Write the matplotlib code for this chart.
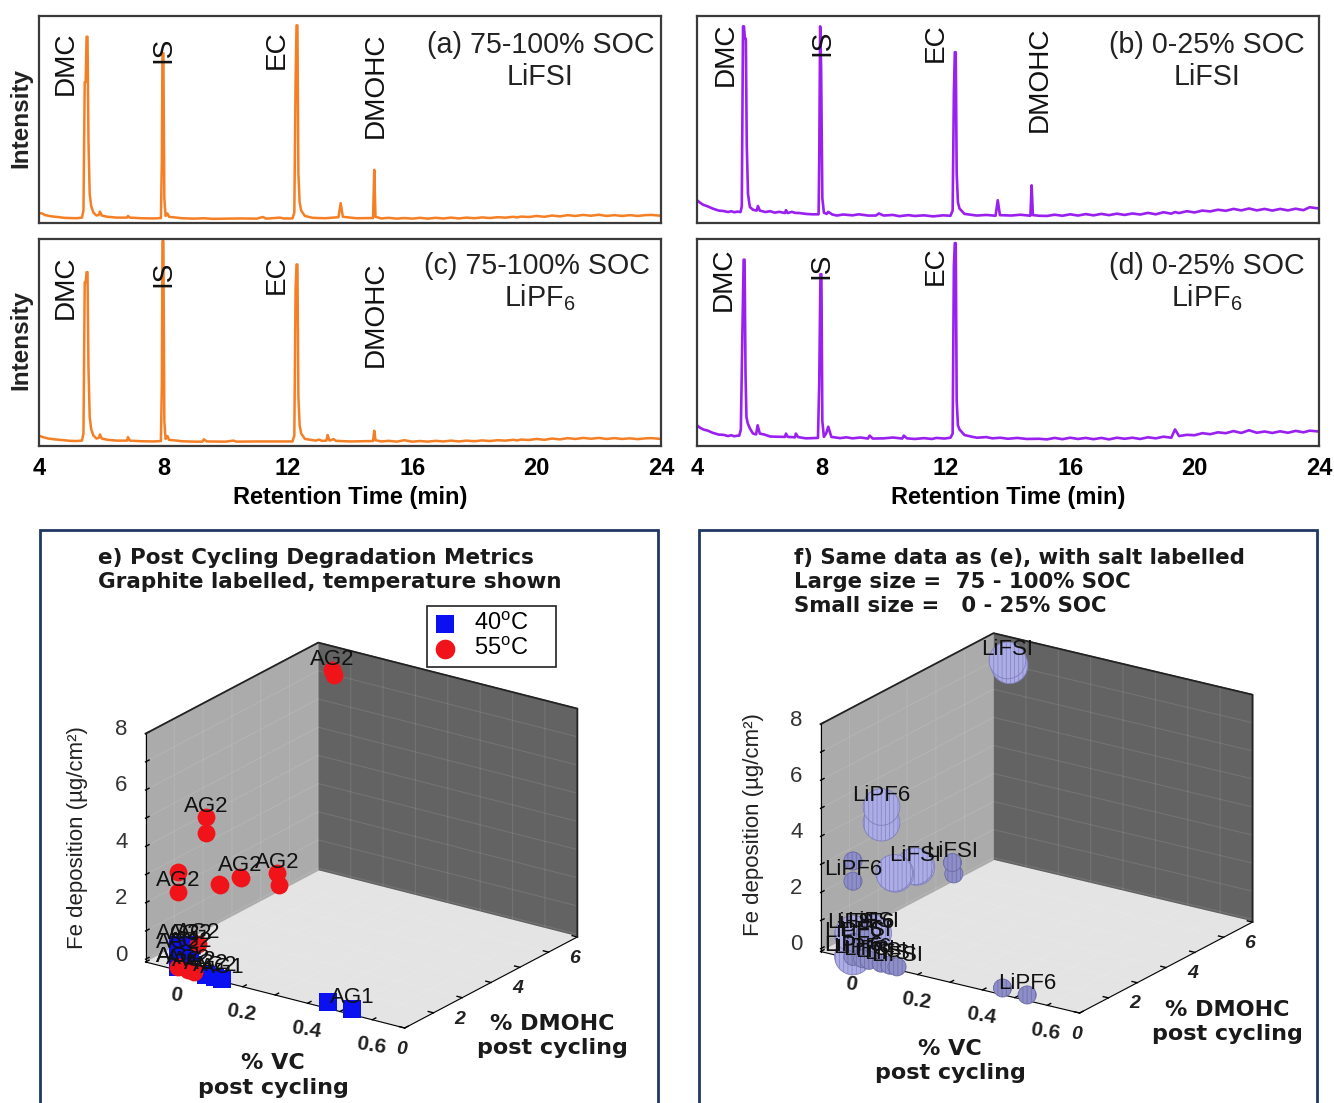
import matplotlib
matplotlib.use("Agg")
import matplotlib.pyplot as plt
from matplotlib.patches import Rectangle
from mpl_toolkits.mplot3d import proj3d

plt.rcParams['font.family'] = ['Liberation Sans', 'DejaVu Sans']
plt.rcParams['mathtext.fontset'] = 'custom'
plt.rcParams['mathtext.rm'] = 'Liberation Sans'
plt.rcParams['mathtext.default'] = 'regular'
plt.rcParams['hatch.linewidth'] = 0.5

# ---------- chromatograms (retention time, % of panel height) ----------
time_a = [4,4.1,4.2,4.4,4.6,4.8,5,5.2,5.38,5.43,5.47,5.5,5.53,5.56,5.59,5.63,5.68,5.75,5.85,5.93,5.96,6.02,6.2,6.5,6.83,6.86,6.92,7.3,7.7,7.92,7.95,7.97,8.0,8.03,8.07,8.13,8.18,8.6,9,9.3,9.6,10,10.5,11,11.2,11.3,11.75,11.85,12.15,12.21,12.25,12.28,12.31,12.34,12.38,12.43,12.55,12.8,13.2,13.63,13.7,13.77,14.2,14.74,14.78,14.82,15]
int_a = [4.8,4.6,3.8,3.2,2.9,2.5,2.4,2.3,2.6,6,68,68,90,90,40,14,8,5,3.6,4,5.5,3.6,3,2.6,2.6,3.4,2.6,2.3,2.2,2.4,30,82,82,12,3.4,4.6,3,2.3,2.1,2.3,2,2.1,2.2,2.1,2.9,2.1,2.6,2.2,2.2,5,69,95.5,95.5,24,10,6,3.4,2.5,2.3,2.8,9.6,3,2.3,2.4,25.7,3,2.2]
time_c = [4,4.1,4.3,4.5,4.8,5,5.2,5.38,5.43,5.47,5.5,5.53,5.56,5.59,5.63,5.68,5.75,5.85,5.93,5.96,6.02,6.2,6.5,6.83,6.86,6.92,7.3,7.7,7.92,7.95,7.97,8.0,8.03,8.07,8.13,8.18,8.6,9,9.25,9.3,9.4,10,10.25,10.35,11,11.6,12.15,12.21,12.25,12.28,12.31,12.34,12.38,12.43,12.55,12.9,13.0,13.1,13.24,13.28,13.34,13.47,13.55,14,14.74,14.78,14.82,15]
int_c = [5,4.4,3.6,3.2,2.8,2.5,2.4,2.6,6,79,79,84,84,38,14,8,5,3.6,4,5.6,3.6,3,2.6,2.6,4.3,2.6,2.3,2.2,2.4,30,99,99,12,3.4,4.8,3,2.3,2.1,2.1,3.2,2.2,2.1,2.6,2.1,2.2,2.2,2.2,5,75.7,87.7,87.7,24,10,6,3.4,2.6,3.1,2.5,2.6,5.3,2.6,3.3,2.5,2.2,2.4,7.4,2.8,2.2]
time_b = [4,4.08,4.2,4.35,4.5,4.7,4.85,5,5.1,5.2,5.3,5.4,5.44,5.48,5.51,5.54,5.57,5.6,5.64,5.7,5.8,5.92,5.96,6.02,6.2,6.35,6.5,6.65,6.83,6.86,6.92,7.05,7.15,7.3,7.5,7.7,7.91,7.93,7.96,7.99,8.03,8.08,8.17,8.22,8.35,8.5,8.7,9,9.2,9.5,9.75,9.85,10,10.3,10.5,10.8,11,11.3,11.6,11.9,12.15,12.22,12.26,12.29,12.32,12.35,12.39,12.44,12.6,12.8,13,13.3,13.6,13.67,13.74,14.1,14.4,14.72,14.76,14.8,15]
int_b = [11,10,8.8,8,7,6,5.8,5.3,5.7,5.2,5.5,5.3,8,95,95,89,89,38,14,7.7,6.4,6,8.2,6,5.3,5.7,5,5.4,4.8,6.2,4.8,5.4,4.9,4.8,4.4,4.2,4.2,30,95,76,12,5,4.4,5.4,4.1,3.6,4.1,3.7,4.2,3.6,3.6,4.6,3.6,3.9,3.3,3.8,3.4,3.7,3.2,3.7,3.5,6,63,82.5,82.5,24,10,7,4.4,4,3.6,3.9,3.5,11,3.8,3.6,4,3.5,18.2,3.8,3.5]
time_d = [4,4.08,4.2,4.35,4.5,4.7,4.85,5,5.1,5.2,5.3,5.36,5.41,5.46,5.5,5.53,5.56,5.59,5.63,5.7,5.8,5.9,5.95,6.02,6.15,6.35,6.5,6.83,6.86,6.92,7.15,7.18,7.25,7.5,7.7,7.89,7.93,7.97,8.0,8.03,8.08,8.15,8.22,8.32,8.6,8.8,9,9.25,9.5,9.55,9.65,10,10.3,10.6,10.65,10.75,11,11.3,11.55,11.7,11.95,12.15,12.22,12.26,12.29,12.32,12.35,12.39,12.44,12.6,12.8,13,13.3,13.5,13.75,14,14.3,14.6,15]
int_d = [10,9,8,7.4,6.4,5.5,5.4,4.8,5.2,4.7,5,5,8,55,90,90,35,14,11,8.5,6,5.6,10,6,5.6,4.6,4.5,4.4,6,4.4,4.2,6,4.3,3.7,3.8,3.9,30,83,83,12,4.4,6,9.3,4.4,3.8,4.2,3.7,4.1,3.6,5,3.6,3.7,4.1,3.6,5,3.7,3.4,3.8,3.4,3.9,3.6,4,6,87,98,98,22,10,8,5.3,4.6,4,4.3,3.7,4,3.5,3.9,3.4,3.5]

# hand-read fuzz of the baselines after 15 min
tail_t = [15.25,15.5,15.75,16,16.25,16.5,16.75,17,17.25,17.5,17.75,18,18.25,18.5,18.75,19,19.25,19.37,19.5,19.75,20,20.25,20.5,20.75,21,21.25,21.5,21.75,22,22.25,22.5,22.75,23,23.25,23.5,23.7,24]
tail_a = [2.5,2.1,2.4,2.1,2.5,2.1,2.5,2.2,2.6,2.2,2.6,2.3,2.7,2.4,2.8,2.6,3,2.7,3.1,2.9,3.4,3,3.6,3.2,3.8,3.4,3.9,3.5,4,3.4,3.8,3.4,3.8,3.4,3.8,3.9,3.5]
tail_c = [2.5,2.1,2.8,2.1,2.4,2.1,2.5,2.2,2.6,2.2,2.6,2.3,2.7,2.4,2.8,2.6,3,2.7,3.1,2.9,3.4,3,3.6,3.2,3.8,3.4,3.9,3.5,3.9,3.4,3.8,3.4,3.7,3.3,3.7,3.8,3.4]
tail_b = [3.4,4,3.5,4.2,3.6,4.3,3.7,4.4,3.8,4.5,3.9,4.6,4.1,4.9,4.2,5.2,4.5,5.3,4.8,5.7,5.1,6,5.6,6.4,5.9,6.8,6.1,7,6.1,6.8,6,6.8,6.1,6.9,6.2,7.6,7]
tail_d = [3.2,3.9,3.3,4,3.4,3.9,3.3,3.9,3.2,4,3.5,4,3.4,4.2,3.7,4.5,4,8,4.8,5.4,5.2,6.2,5.7,6.6,6.2,7.2,6.3,7.6,6.4,7,6.3,7.1,6.4,7.3,6.6,7.4,7]

time_ticks = [4, 8, 12, 16, 20, 24]

# ---------- cycling degradation metrics shared by panels e and f ----------
vc_pct = [0,0,0,0,0,0,0,0,0,0,0,0,0,0,0.03,0.05, 0,0,0,0,0,0.087,0.114,0.136,0.462,0.538]
dmohc_pct = [5.36,5.43,0.99,0.99,0,0,1.43,1.47,2.15,2.2,3.45,3.5,0.7,0,0,0, 0,0.42,0,0.42,0,0,0,0,0,0]
fe_dep = [7.65,7.44,4.79,4.23,3.4,2.68,2.2,2.15,2.05,2.0,1.48,1.05,0.45,0,0,0, 0.8,0.57,0.5,0.28,0,0,0,0,0.14,0.1]
temps = [55]*16 + [40]*10
soc_high = [1,1,1,1,0,0,1,1,1,1,0,0,1,0,0,0, 1,0,0,0,1,0,0,0,0,0]
graphite = ['AG2','','AG2','','','AG2','','','AG2','','AG2','','AG2','AG2','AG2','AG2',
            'AG2','AG2','AG2','AG2','AG2','AG2','AG2','AG1','','AG1']
salt = ['LiFSI','','LiPF6','','','LiPF6','','','LiFSI','','LiFSI','','LiFSI','LiPF6','LiPF6','LiFSI',
        'LiFSI','LiPF6','LiPF6','LiFSI','LiPF6','LiFSI','LiFSI','LiFSI','','LiPF6']

W, H = 1334, 1103
fig = plt.figure(figsize=(W/100, H/100), dpi=100, facecolor='white')


def fx(x):
    return x / W


def fy(y):
    return 1 - y / H


def ftext(x, y, s, **kw):
    kw.setdefault('ha', 'center')
    kw.setdefault('va', 'center')
    fig.text(fx(x), fy(y), s, **kw)


def chrom_axes(box, t, v, color, lw, show_x):
    x0, y0, x1, y1 = box
    ax = fig.add_axes([fx(x0), fy(y1), (x1-x0)/W, (y1-y0)/H], zorder=5)
    ax.plot(t + tail_t, v, color=color, lw=lw, solid_joinstyle='round')
    ax.set_xlim(4, 24)
    ax.set_ylim(0, 100)
    ax.set_yticks([])
    ax.set_xticks(time_ticks)
    ax.tick_params(axis='x', length=0, pad=8, labelbottom=show_x, labelsize=17)
    for lab in ax.get_xticklabels():
        lab.set_fontweight('bold')
    for sp in ax.spines.values():
        sp.set_linewidth(1.6)
        sp.set_color('#3a3a3a')
    if show_x:
        ax.set_xlabel('Retention Time (min)', fontsize=17, fontweight='bold', labelpad=4)
    return ax


ORANGE = '#F57F25'
PURPLE = '#9A20F0'
chrom_axes((39, 16, 661, 223), time_a, int_a + tail_a, ORANGE, 1.8, False)
chrom_axes((39, 239, 661, 446), time_c, int_c + tail_c, ORANGE, 1.8, True)
chrom_axes((697, 16, 1319, 223), time_b, int_b + tail_b, PURPLE, 1.9, False)
chrom_axes((697, 239, 1319, 446), time_d, int_d + tail_d, PURPLE, 1.9, True)

rot = dict(rotation=90, fontsize=20.2, color='#111111', zorder=10)
for x, y, s in [(66, 63, 'DMC'), (163, 50, 'IS'), (277, 50, 'EC'), (376, 85, 'DMOHC'),
                (66, 287, 'DMC'), (163, 274, 'IS'), (277, 275, 'EC'), (376, 314, 'DMOHC'),
                (726, 54, 'DMC'), (822, 43, 'IS'), (936, 43, 'EC'), (1040, 79, 'DMOHC'),
                (724, 279, 'DMC'), (821, 266, 'IS'), (936, 266, 'EC')]:
    ftext(x, y, s, **rot)
for x, y, s in [(541, 45, '(a) 75-100% SOC'), (540, 77, 'LiFSI'),
                (537, 266, '(c) 75-100% SOC'), (540, 298, 'LiPF$_6$'),
                (1207, 45, '(b) 0-25% SOC'), (1207, 77, 'LiFSI'),
                (1207, 266, '(d) 0-25% SOC'), (1207, 298, 'LiPF$_6$')]:
    ftext(x, y, s, fontsize=20.6, color='#222222', zorder=10)
for y in (118, 340):
    ftext(21, y, 'Intensity', rotation=90, fontsize=17.5, fontweight='bold', color='#222222')

# ---------- panel frames ----------
NAVY = '#1F3864'
for x0 in (39.5, 698.5):
    fig.add_artist(Rectangle((fx(x0), fy(1140)), 618.5/W, (1140-530)/H, transform=fig.transFigure,
                             fill=False, edgecolor=NAVY, lw=2))

XLIM = (-0.1, 0.7)
YLIM = (0, 6)
ZLIM = (-0.1, 8)
vc_ticks = [-0.1, 0, 0.1, 0.2, 0.3, 0.4, 0.5, 0.6, 0.7]
vc_labels = ['', '  0', '', '  0.2', '', '  0.4', '', '  0.6', '']
dm_ticks = [0, 1, 2, 3, 4, 5, 6]
dm_labels = ['0     ', '', '2     ', '', '4     ', '', '6     ']
fe_ticks = [0, 1, 2, 3, 4, 5, 6, 7, 8]
fe_labels = ['0', '', '2', '', '4', '', '6', '', '8']


def axes3d(origin, front, elev, azim, aspect):
    ax = fig.add_axes([0.05, 0.0, 0.5, 0.5*W/H], projection='3d', zorder=1)
    ax.set_proj_type('ortho')
    ax.view_init(elev=elev, azim=azim)
    ax.set_xlim(*XLIM, view_margin=0)
    ax.set_ylim(*YLIM, view_margin=0)
    ax.set_zlim(*ZLIM, view_margin=0)
    ax.computed_zorder = False
    ax.patch.set_visible(False)
    for axis, col in ((ax.xaxis, '#ABABAB'), (ax.yaxis, '#636363'), (ax.zaxis, '#E4E4E4')):
        axis.set_pane_color(col)
        axis.pane.set_edgecolor(col)
        axis._axinfo['grid'].update(color=(1, 1, 1, 0.1), linewidth=0.8)
        axis._axinfo['axisline']['color'] = (0.15, 0.15, 0.15, 1)
        axis._axinfo['axisline']['linewidth'] = 1.3
        axis._axinfo['tick']['inward_factor'] = 0
        axis._axinfo['tick']['outward_factor'] = 0.25
        axis._axinfo['tick']['linewidth'] = {True: 1.0, False: 0.8}
        axis._axinfo['tick']['color'] = '#333333'
    ax.set_xticks(vc_ticks, vc_labels, fontsize=15, fontweight='bold', color='#222222', rotation=-9)
    ax.set_yticks(dm_ticks, dm_labels, fontsize=14, fontweight='bold', style='italic', color='#222222')
    ax.set_zticks(fe_ticks, fe_labels, fontsize=16, color='#333333', va='baseline')
    ax.zaxis.set_ticks_position('lower')
    ax.tick_params(axis='x', pad=2)
    ax.tick_params(axis='y', pad=3)
    ax.tick_params(axis='z', pad=6)
    # wall outline
    x0, x1 = XLIM
    y0, y1 = YLIM
    z0, z1 = ZLIM
    ax.plot([x0, x0, x1, x1], [y0, y1, y1, y1], [z1, z1, z1, z0], color='#222222', lw=1.3, zorder=1)

    # fit the box onto the wanted pixels
    zoom = 1.0
    ax.set_box_aspect(aspect, zoom=zoom)

    def pix(p):
        X, Y, _ = proj3d.proj_transform(*p, ax.get_proj())
        return ax.transData.transform((X, Y))

    ax.apply_aspect()
    a, b = pix((x0, y0, z0)), pix((x1, y0, z0))
    zoom *= (front[0] - origin[0]) / (b[0] - a[0])
    ax.set_box_aspect(aspect, zoom=zoom)
    a = pix((x0, y0, z0))
    pos = ax.get_position(original=True)
    dx = (origin[0] - a[0]) / W
    dy = ((H - origin[1]) - a[1]) / H
    ax.set_position([pos.x0 + dx, pos.y0 + dy, pos.width, pos.height])
    return ax


def text_labels(ax, labels, dz=0.4):
    for x, y, z, s in zip(vc_pct, dmohc_pct, fe_dep, labels):
        if s:
            ax.text(x, y, z + dz, s, fontsize=16, rotation=-9, ha='center', va='center',
                    color='#111111', zorder=20)


# ---------- panel e ----------
axe = axes3d((145.6, 962), (404.7, 1028), 21.5, -55.2, (315, 302, 245))
for t, col, mk, size, name in [(40, '#0A10F0', 's', 150, '40$^{o}$C    '), (55, '#F0141A', 'o', 165, '55$^{o}$C    ')]:
    idx = [i for i, v in enumerate(temps) if v == t]
    axe.scatter([vc_pct[i] for i in idx], [dmohc_pct[i] for i in idx], [fe_dep[i] for i in idx],
                c=col, marker=mk, s=size, depthshade=False, linewidths=0, zorder=10 if t == 40 else 11, label=name)
text_labels(axe, graphite)
leg = axe.legend(loc='upper left', bbox_to_anchor=(fx(427), fy(606)), bbox_transform=fig.transFigure,
                 fontsize=17, frameon=True, fancybox=False, edgecolor='#222222', framealpha=1,
                 borderaxespad=0, borderpad=0.3, labelspacing=0.12, handletextpad=0.8, handlelength=0.9,
                 markerscale=1.1)
leg.get_frame().set_linewidth(1.2)

# ---------- panel f ----------
axf = axes3d((820.6, 951.5), (1079.6, 1013), 20.7, -56.1, (312, 310, 243))
for flag, size, face, edge, zo in [(1, 700, '#ACACE6', '#8080BC', 10), (0, 170, '#8E8EC8', '#6A6AA4', 11)]:
    idx = [i for i, v in enumerate(soc_high) if v == flag]
    axf.scatter([vc_pct[i] for i in idx], [dmohc_pct[i] for i in idx], [fe_dep[i] for i in idx],
                facecolor=face, edgecolor=edge, hatch='||||', marker='o', s=size, depthshade=False,
                linewidths=0.6, zorder=zo)
text_labels(axf, salt)

# ---------- bold text of lower panels ----------
bold = dict(family='DejaVu Sans', fontweight='bold', color='#1a1a1a')
ftext(98, 558, 'e) Post Cycling Degradation Metrics', ha='left', fontsize=15.5, **bold)
ftext(98, 582, 'Graphite labelled, temperature shown', ha='left', fontsize=15.5, **bold)
ftext(794, 558, 'f) Same data as (e), with salt labelled', ha='left', fontsize=15.3, **bold)
ftext(794, 582, 'Large size =  75 - 100% SOC', ha='left', fontsize=15.3, **bold)
ftext(794, 606, 'Small size =   0 - 25% SOC', ha='left', fontsize=15.3, **bold)
for x, y1, y2, a in [(273, 1063, 1088, '% VC'), (552, 1024, 1048, '% DMOHC'),
                     (950, 1049, 1073, '% VC'), (1227, 1010, 1034, '% DMOHC')]:
    ftext(x, y1, a, fontsize=16, **bold)
    ftext(x, y2, 'post cycling', fontsize=16, **bold)
ftext(77, 838, 'Fe deposition (µg/cm²)', rotation=90, fontsize=16, color='#222222')
ftext(753, 825, 'Fe deposition (µg/cm²)', rotation=90, fontsize=16, color='#222222')

fig.savefig('out.png', dpi=100)
